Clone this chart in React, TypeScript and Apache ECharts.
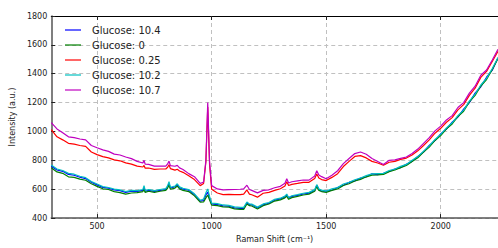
import React, { useEffect, useRef } from "react";
import * as echarts from "echarts";

const seriesNames = ["Glucose: 10.4", "Glucose: 0", "Glucose: 0.25", "Glucose: 10.2", "Glucose: 10.7"];
const seriesColors = ["#0000ff", "#008000", "#ff0000", "#00bfbf", "#bf00bf"];

const ramanShift = [
  300, 325, 350, 375, 400, 425, 450, 475, 500, 525, 550, 575, 600, 625, 650, 675, 700, 705, 710, 725,
  750, 775, 800, 808, 814, 820, 840, 850, 860, 875, 900, 925, 950, 965, 975, 983, 991, 1000, 1025, 1050,
  1075, 1100, 1125, 1140, 1154, 1165, 1175, 1200, 1225, 1250, 1275, 1300, 1320, 1328, 1336, 1350, 1375, 1400, 1425, 1450,
  1459, 1468, 1480, 1500, 1525, 1550, 1575, 1600, 1625, 1650, 1675, 1700, 1725, 1750, 1775, 1800, 1825, 1850, 1875, 1900,
  1925, 1950, 1975, 2000, 2025, 2050, 2075, 2100, 2125, 2150, 2175, 2200, 2225, 2250,
];

const glucose104 = [
  760, 733, 724, 703, 697, 683, 674, 648, 630, 613, 607, 596, 590, 578, 587, 585, 592, 610, 586, 592,
  585, 592, 598, 617, 640, 608, 617, 632, 610, 600, 593, 562, 518, 522, 560, 580, 540, 498, 494, 485,
  482, 471, 468, 468, 505, 493, 492, 470, 492, 503, 524, 533, 547, 560, 540, 550, 558, 567, 573, 592,
  628, 600, 586, 587, 593, 612, 628, 647, 658, 677, 686, 707, 701, 710, 723, 740, 750, 772, 793, 827,
  858, 903, 937, 983, 1017, 1064, 1100, 1155, 1200, 1266, 1310, 1376, 1425, 1510,
];

const glucose0 = [
  748, 720, 710, 686, 682, 670, 662, 638, 620, 603, 598, 583, 577, 566, 574, 576, 584, 598, 578, 586,
  578, 586, 592, 608, 630, 600, 608, 622, 602, 592, 584, 554, 510, 512, 540, 560, 525, 490, 487, 478,
  476, 464, 460, 460, 498, 486, 484, 463, 486, 498, 518, 526, 540, 552, 530, 542, 550, 560, 566, 586,
  618, 592, 584, 578, 592, 602, 626, 638, 657, 668, 686, 698, 700, 703, 722, 733, 750, 764, 792, 818,
  857, 892, 938, 972, 1018, 1052, 1104, 1140, 1205, 1250, 1315, 1360, 1430, 1505,
];

const glucose025 = [
  1013, 963, 942, 918, 912, 903, 897, 858, 840, 826, 817, 803, 797, 783, 774, 760, 754, 765, 746, 747,
  738, 740, 740, 752, 770, 743, 732, 738, 726, 717, 693, 667, 625, 640, 790, 1170, 770, 600, 574, 563,
  564, 563, 562, 566, 595, 566, 562, 545, 572, 578, 592, 603, 622, 652, 626, 634, 640, 647, 648, 674,
  705, 678, 667, 660, 682, 708, 757, 793, 827, 833, 817, 793, 782, 766, 787, 793, 807, 816, 837, 866,
  903, 942, 988, 1022, 1064, 1096, 1150, 1186, 1250, 1300, 1375, 1416, 1485, 1555,
];

const glucose102 = [
  768, 740, 730, 710, 704, 690, 680, 654, 636, 618, 612, 601, 596, 584, 592, 590, 598, 625, 592, 598,
  590, 598, 604, 625, 652, 614, 622, 638, 616, 606, 598, 568, 524, 532, 575, 602, 550, 504, 500, 491,
  488, 478, 474, 474, 512, 498, 497, 476, 498, 508, 530, 538, 552, 566, 543, 555, 563, 572, 578, 597,
  632, 602, 594, 588, 602, 612, 636, 648, 666, 678, 694, 706, 708, 710, 730, 740, 758, 772, 800, 826,
  864, 900, 945, 980, 1025, 1060, 1110, 1148, 1210, 1258, 1322, 1368, 1436, 1512,
];

const glucose107 = [
  1062, 1018, 992, 963, 957, 948, 942, 903, 887, 873, 862, 843, 837, 823, 812, 793, 782, 800, 773, 772,
  760, 760, 760, 775, 795, 763, 759, 765, 748, 737, 708, 687, 640, 650, 800, 1200, 790, 625, 602, 596,
  597, 598, 600, 603, 628, 598, 592, 575, 592, 596, 610, 620, 642, 672, 643, 652, 658, 664, 663, 692,
  728, 698, 687, 673, 697, 728, 777, 813, 847, 858, 842, 813, 792, 771, 800, 803, 814, 823, 847, 878,
  918, 957, 1004, 1037, 1080, 1110, 1166, 1200, 1266, 1314, 1390, 1426, 1495, 1570,
];

const seriesValues = [glucose104, glucose0, glucose025, glucose102, glucose107];

const xTicks = [500, 1000, 1500, 2000];

const FONT = "DejaVu Sans";

export default function App() {
  const ref = useRef<HTMLDivElement>(null);
  useEffect(() => {
    document.body.style.margin = "0";
    if (!ref.current) return;
    const chart = echarts.init(ref.current, null, { renderer: "svg" });
    const grid = {
      type: [4, 3] as any,
      color: "#c0c0c0",
      width: 1,
    };
    const fmt = (v: number) => String(v);
    chart.setOption({
      animation: false,
      textStyle: { fontFamily: FONT },
      grid: { left: 49, right: 0, top: 16, bottom: 22, containLabel: false },
      legend: {
        orient: "vertical",
        left: 60,
        top: 19,
        icon: "rect",
        itemWidth: 16,
        itemHeight: 1.2,
        itemGap: 3,
        textStyle: { fontFamily: FONT, fontSize: 10, color: "#222", lineHeight: 12, padding: [0, 0, 0, 6] },
        data: seriesNames,
      },
      xAxis: [
        {
          type: "value",
          min: 300,
          max: 2250,
          name: "Raman Shift (cm⁻¹)",
          nameLocation: "middle",
          nameGap: 13,
          nameTextStyle: { fontFamily: FONT, fontSize: 8, color: "#222" },
          axisLine: { show: true, lineStyle: { color: "#555", width: 1.5 } },
          axisTick: { show: true, inside: true, length: 4, lineStyle: { color: "#222" }, customValues: xTicks },
          axisLabel: { customValues: xTicks, fontFamily: FONT, fontSize: 8, color: "#222", margin: 4, formatter: fmt },
          splitLine: { show: true, lineStyle: grid },
        },
        {
          type: "value",
          position: "top",
          min: 300,
          max: 2250,
          axisLine: { show: true, lineStyle: { color: "#000", width: 1 } },
          axisTick: { show: true, inside: true, length: 4, lineStyle: { color: "#222" }, customValues: xTicks },
          axisLabel: { show: false },
          splitLine: { show: false },
        },
      ],
      yAxis: {
        type: "value",
        min: 400,
        max: 1800,
        interval: 200,
        name: "Intensity (a.u.)",
        nameLocation: "middle",
        nameGap: 32,
        nameTextStyle: { fontFamily: FONT, fontSize: 8, color: "#222" },
        axisLine: { show: true, lineStyle: { color: "#555", width: 1.5 } },
        axisTick: { show: true, inside: true, length: 4, lineStyle: { color: "#222" } },
        axisLabel: { fontFamily: FONT, fontSize: 8, color: "#222", margin: 4, formatter: fmt },
        splitLine: { show: true, lineStyle: grid },
      },
      series: seriesNames.map((name, i) => ({
        name,
        type: "line",
        xAxisIndex: 0,
        symbol: "none",
        lineStyle: { color: seriesColors[i], width: 1.2 },
        itemStyle: { color: seriesColors[i] },
        data: ramanShift.map((x, j) => [x, seriesValues[i][j]]),
      })),
    });
    return () => chart.dispose();
  }, []);
  return <div ref={ref} style={{ width: 498, height: 248 }} />;
}
